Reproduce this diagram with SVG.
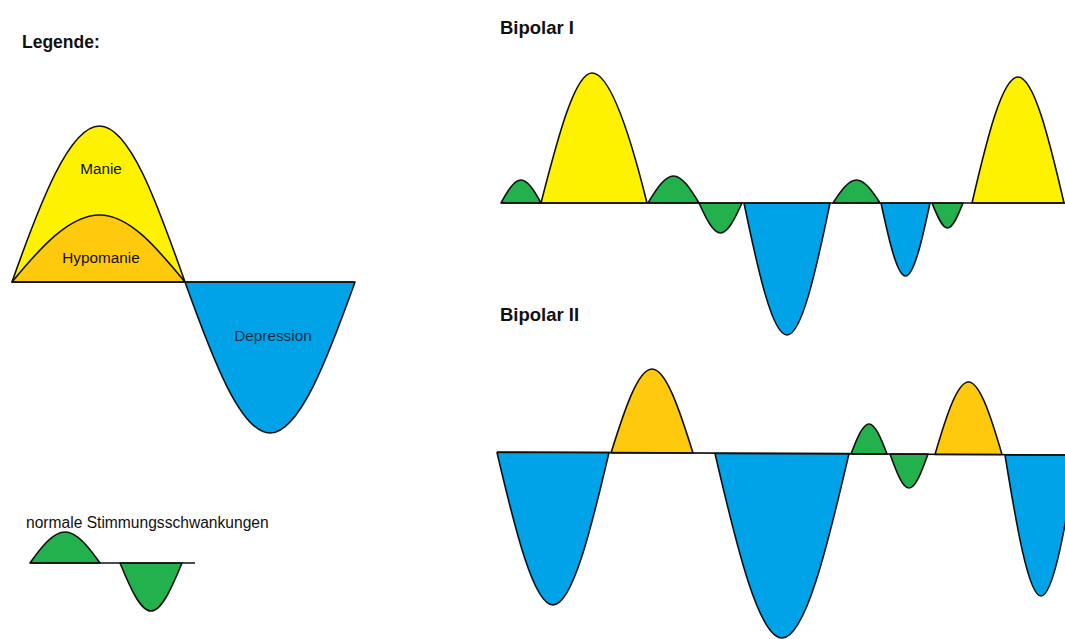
<svg xmlns="http://www.w3.org/2000/svg" width="1065" height="639" viewBox="0 0 1065 639">
<style>
text{font-family:"Liberation Sans",Arial,sans-serif;fill:#111}
.t{font-weight:bold;font-size:17.5px}
.tb{font-weight:bold;font-size:18.5px}
.l{font-size:15.3px}
path{stroke:#111;stroke-width:1.6;stroke-linejoin:round}
.y{fill:#FFF200}.o{fill:#FFC90E}.b{fill:#00A2E8}.g{fill:#22B14C}
.base{stroke:#111;stroke-width:1.6;fill:none}
</style>
<rect width="1065" height="639" fill="#fff"/>
<g id="legend">
<text class="t" x="22" y="48">Legende:</text>
<g id="legend-manie"><path class="y" d="M12,282 C40.2,202 69.5,126 99.5,126 C129.5,126 156.8,202 185,282 Z"/></g>
<g id="legend-hypomanie"><path class="o" d="M12,282 C40.2,247.7 69.5,215 99.5,215 C129.5,215 156.8,247.7 185,282 Z"/></g>
<g id="legend-depression"><path class="b" d="M185,282 C212.7,359.4 240.9,433 270,433 C299.1,433 327.3,359.4 355,282 Z"/></g>
<line class="base" x1="12" y1="282" x2="355" y2="282"/>
<text class="l" x="101" y="174" text-anchor="middle">Manie</text>
<text class="l" x="101" y="263" text-anchor="middle">Hypomanie</text>
<text class="l" x="273" y="341" text-anchor="middle" style="fill:#1c2d44">Depression</text>
<g id="legend-normal">
<text class="l" x="26" y="528" style="font-size:15.6px">normale Stimmungsschwankungen</text>
<path class="g" d="M30,563 C41.4,547.1 53,532 65,532 C77,532 88.6,547.1 100,563 Z"/>
<path class="g" d="M120,563 C130.1,587.6 140.4,611 151,611 C161.6,611 171.9,587.6 182,563 Z"/>
<line class="base" x1="30" y1="563" x2="195" y2="563"/>
</g>
</g>
<g id="bipolar1">
<text class="tb" x="500" y="34">Bipolar I</text>
<path class="g" d="M501,203 C507.5,191.2 514.1,180 521,180 C527.9,180 534.5,191.2 541,203 Z"/>
<path class="y" d="M541,203 C558,136.4 575,73 592,73 C610,73 630.5,136.4 647,203 Z"/>
<path class="g" d="M648,203 C656.3,189.2 664.8,176 673.5,176 C682.2,176 690.7,189.2 699,203 Z"/>
<path class="g" d="M699,203 C706,218.4 713.1,233 720.5,233 C727.9,233 735,218.4 742,203 Z"/>
<path class="b" d="M744,203 C758,270.7 772.3,335 787,335 C801.7,335 816,270.7 830,203 Z"/>
<path class="g" d="M833,203 C840.7,191.2 848.4,180 856.5,180 C864.6,180 872.3,191.2 880,203 Z"/>
<path class="b" d="M881,203 C889,240.4 897.1,276 905.5,276 C913.9,276 922,240.4 930,203 Z"/>
<path class="g" d="M932,203 C937.1,215.8 942.2,228 947.5,228 C952.8,228 957.9,215.8 963,203 Z"/>
<path class="y" d="M972,203 C987,138.4 1002.2,77 1018,77 C1033.8,77 1049,138.4 1064,203 Z"/>
<line class="base" x1="501" y1="203" x2="1065" y2="203"/>
</g>
<g id="bipolar2">
<text class="tb" x="500" y="321">Bipolar II</text>
<path class="b" d="M497,452.5 C515.3,530.7 533.8,605 553,605 C572.2,605 590.7,530.7 609,452.5 Z"/>
<path class="o" d="M611,453 C624.4,410 638,369 652,369 C666,369 679.6,410 693,453 Z"/>
<path class="b" d="M715,453.5 C736.9,548.1 759,638 782,638 C805,638 827.1,548.1 849,453.5 Z"/>
<path class="g" d="M851,454 C856.9,438.6 862.8,424 869,424 C875.2,424 881.1,438.6 887,454 Z"/>
<path class="g" d="M890,454 C896.2,471.4 902.5,488 909,488 C915.5,488 921.8,471.4 928,454 Z"/>
<path class="o" d="M935,454.5 C945.9,417.3 957,382 968.5,382 C980,382 991.1,417.3 1002,454.5 Z"/>
<path class="b" d="M1005,455 C1016.7,527.3 1028.7,596 1041,596 C1053.3,596 1065.3,527.3 1077,455 Z"/>
<line class="base" x1="497" y1="452" x2="1065" y2="455"/>
</g>
</svg>
